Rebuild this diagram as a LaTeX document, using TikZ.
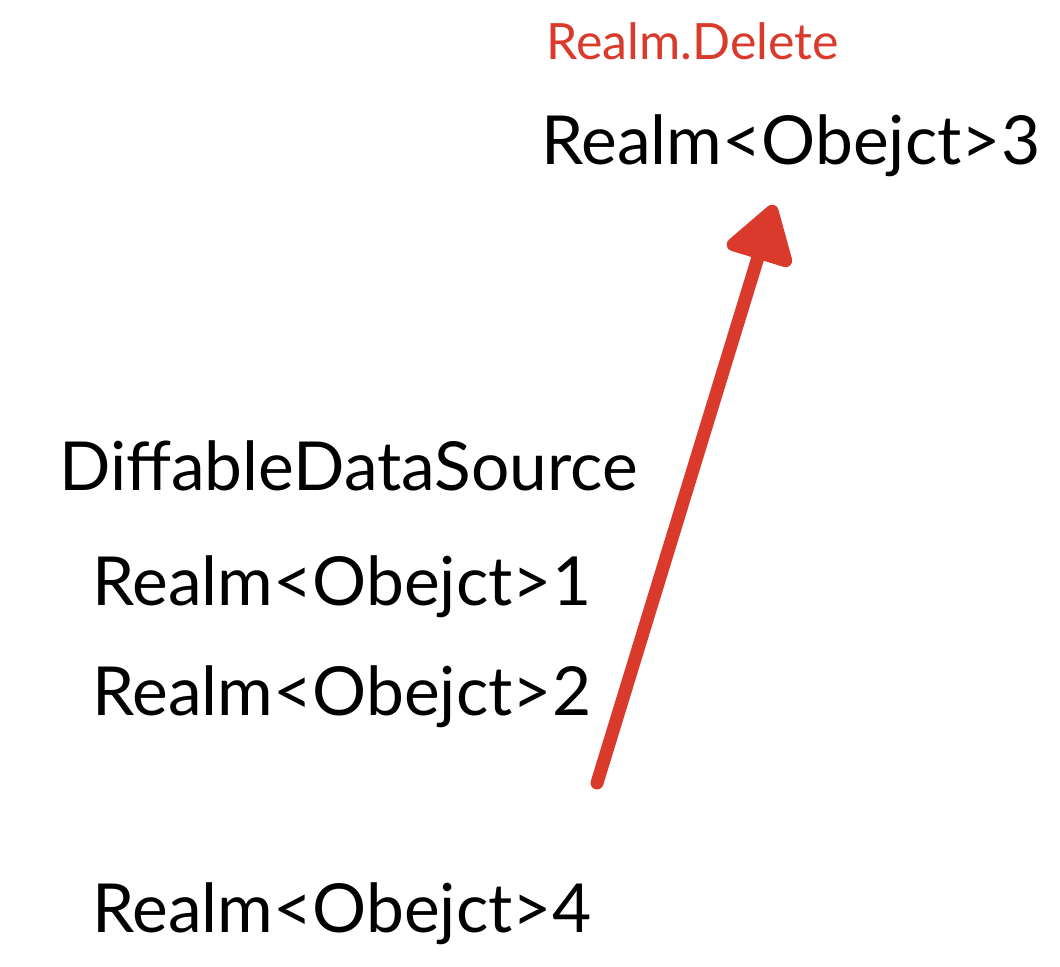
\documentclass[tikz,border=0pt]{standalone}
\usepackage{fontspec}
\setmainfont{Lato}
\usetikzlibrary{arrows.meta}

\definecolor{delred}{HTML}{D93A2B}

\tikzset{
  item/.style = {anchor=base west, inner sep=0pt, font=\fontsize{38.5}{44}\selectfont},
  note/.style = {anchor=base west, inner sep=0pt, text=delred, font=\fontsize{28.5}{33}\selectfont},
  move/.style = {draw=delred, line width=0.26cm, line cap=round,
                 -{Triangle[length=1.25cm,width=1.5cm,round]}}
}

\begin{document}
\begin{tikzpicture}[x=0.02cm, y=-0.02cm]
\useasboundingbox (0,0) rectangle (1060,966);
				\node[note] (del) at(546,60){Realm.Delete};
				\node[item] (r3) at(541,165){Realm<Obejct>3};
				\node[item] (ds) at(59,490){DiffableDataSource};
				\node[item] (r1) at(92,605){Realm<Obejct>1};
				\node[item] (r2) at(92,715){Realm<Obejct>2};
				\node[item] (r4) at(92,932){Realm<Obejct>4};
				% the moved row
				\coordinate (from) at(597,783);
				\coordinate (to) at(774,205);
				\draw[move] (from) -- (to);
			\end{tikzpicture}
\end{document}
